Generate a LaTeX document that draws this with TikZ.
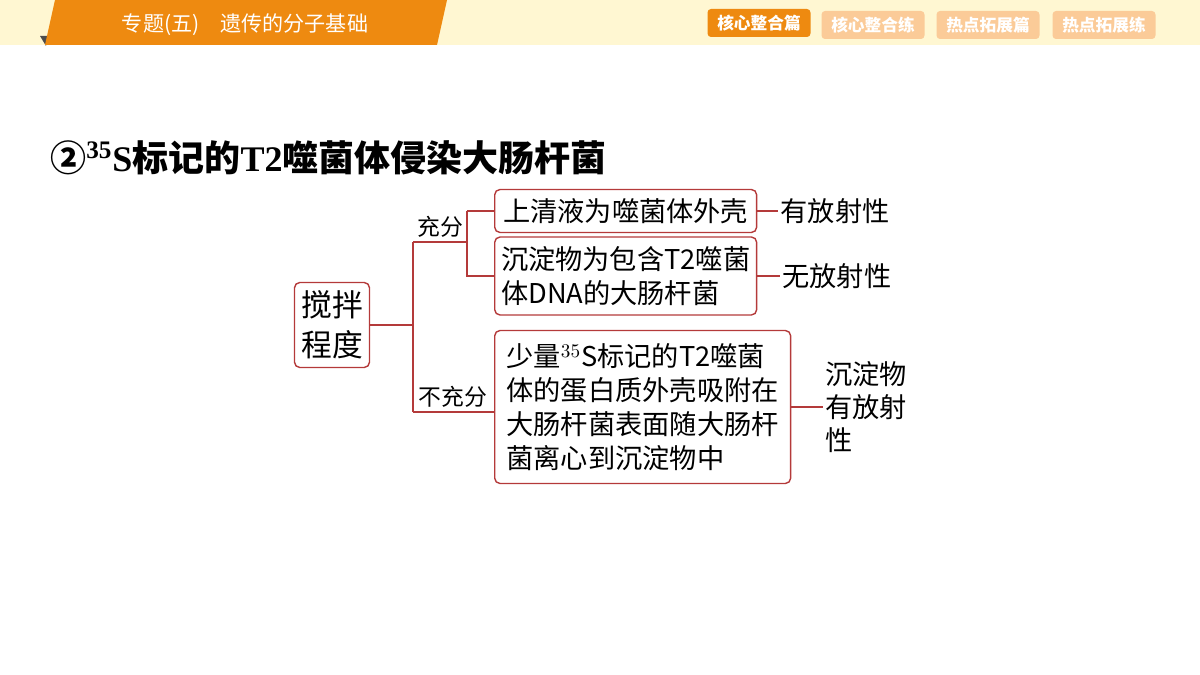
\documentclass[tikz,border=0pt]{standalone}
\usepackage{fontspec}
\setmainfont{Liberation Serif}
\newfontfamily\cjk{Noto Sans CJK SC}
\usetikzlibrary{positioning}
\definecolor{hdrorange}{HTML}{EE8A10}
\definecolor{hdrlight}{HTML}{FFF7D2}
\definecolor{tablight}{HTML}{FBCB98}
\definecolor{boxred}{HTML}{B43A3A}

\tikzset{
  item/.style={draw=boxred, line width=0.8pt, rounded corners=3pt, align=left, inner sep=3pt,
    font=\cjk\fontsize{15.5}{19.3}\selectfont},
  tag/.style={font=\cjk\fontsize{13}{15}\selectfont, inner sep=1pt},
  result/.style={font=\cjk\fontsize{15.5}{19}\selectfont, align=left, inner sep=1pt},
  link/.style={draw=boxred, line width=0.8pt},
  tab/.style={rounded corners=2pt, minimum width=2.06cm, minimum height=0.56cm, text=white,
    font=\cjk\bfseries\fontsize{9.5}{10}\selectfont}
}

\begin{document}
\begin{tikzpicture}[x=0.02cm, y=-0.02cm]
  \useasboundingbox (0,0) rectangle (1200,675);
  % header
  \fill[hdrlight] (0,0) rectangle (1200,45);
  \fill[black!70] (40,36) -- (48,36) -- (46,46) -- cycle;
  \fill[hdrorange] (55,0) -- (447,0) -- (437,45) -- (45,45) -- cycle;
  \node[text=white, font=\cjk\fontsize{12}{14}\selectfont] (topic) at (245,25) {专题(五)\quad 遗传的分子基础};
  \node[tab, fill=hdrorange] (tab1) at (759,23) {核心整合篇};
  \node[tab, fill=tablight] (tab2) at (873,25) {核心整合练};
  \node[tab, fill=tablight] (tab3) at (988,25) {热点拓展篇};
  \node[tab, fill=tablight] (tab4) at (1104,25) {热点拓展练};
  % title
  \node[anchor=west, inner sep=0pt, font=\bfseries\fontsize{20.5}{24}\selectfont] (title) at (50,158)
    {{\cjk ②}$^{\mathbf{35}}$S{\cjk 标记的}T2{\cjk 噬菌体侵染大肠杆菌}};

  % tree
  \node[item, align=center, minimum width=1.5cm, minimum height=1.7cm,
    font=\cjk\fontsize{17.5}{23}\selectfont] (stir) at (332,325) {搅拌\\程度};
  \coordinate (fork) at (413,325);
  \coordinate (upper) at (413,242);
  \coordinate (lower) at (413,412);
  \coordinate (split) at (467,242);
  \node[item, anchor=west, minimum width=5.24cm, minimum height=0.86cm] (sup) at (494,211) {上清液为噬菌体外壳};
  \node[item, anchor=west, minimum width=5.24cm, minimum height=1.56cm] (sed) at (494,276) {沉淀物为包含T2噬菌\\体DNA的大肠杆菌};
  \node[item, anchor=west, minimum width=5.92cm, minimum height=3.06cm] (weak) at (494,407) {少量$^{35}$S标记的T2噬菌\\体的蛋白质外壳吸附在\\大肠杆菌表面随大肠杆\\菌离心到沉淀物中};
  \node[tag, anchor=south] (full) at (440,240) {充分};
  \node[tag, anchor=south] (part) at (453,410) {不充分};
  \node[result, right=12pt of sup.east, anchor=west] (res1) {有放射性};
  \node[result, right=13pt of sed.east, anchor=west] (res2) {无放射性};
  \node[result, right=18pt of weak.east, anchor=west] (res3) {沉淀物\\有放射\\性};

  \draw[link] (stir.east) -- (fork);
  \draw[link] (upper) -- (lower);
  \draw[link] (upper) -- (split);
  \draw[link] (split |- sup.west) -- (sup.west);
  \draw[link] (split |- sup.west) -- (split |- sed.west) -- (sed.west);
  \draw[link] (lower) -- (lower -| weak.west);
  \draw[link] (sup.east) -- (res1.west);
  \draw[link] (sed.east) -- (res2.west);
  \draw[link] (weak.east) -- (res3.west);
\end{tikzpicture}
\end{document}
